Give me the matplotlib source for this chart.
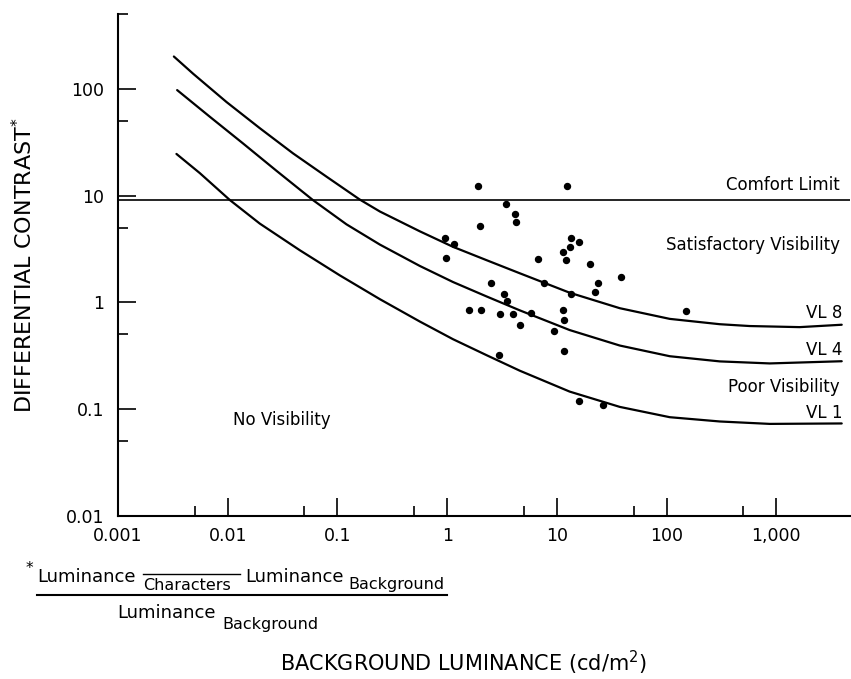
import matplotlib
matplotlib.use("Agg")
import matplotlib.pyplot as plt
from matplotlib.lines import Line2D
from matplotlib.ticker import FixedLocator, FixedFormatter, LogLocator, NullFormatter

# Pontos medidos: luminancia de fundo (cd/m2) e contraste diferencial
amostras_luminancia = [1.91, 12.3, 3.41, 4.19, 4.21, 1.99, 0.96, 1.16, 0.98, 13.6,
                       15.8, 13.2, 11.4, 12.1, 6.8, 20.2, 38.1, 2.49, 7.6, 23.9,
                       22.2, 13.6, 3.31, 3.52, 1.58, 2.02, 3.02, 3.95, 5.76, 11.4,
                       11.6, 4.6, 9.5, 11.7, 2.96, 15.8, 26.1, 150]
amostras_contraste = [12.2, 12.2, 8.4, 6.7, 5.6, 5.2, 4.0, 3.5, 2.6, 4.0,
                      3.7, 3.3, 2.96, 2.5, 2.57, 2.27, 1.74, 1.53, 1.53, 1.52,
                      1.25, 1.19, 1.19, 1.03, 0.855, 0.855, 0.784, 0.772, 0.80, 0.855,
                      0.69, 0.61, 0.54, 0.35, 0.32, 0.119, 0.11, 0.836]

# Curvas de nivel de visibilidade
vl8_x = [0.00323, 0.00484, 0.00975, 0.0196, 0.0394, 0.0796, 0.160, 0.244, 0.564, 1.13,
         2.29, 4.60, 13.1, 37.5, 107, 306, 572, 1634, 3950]
vl8_y = [200, 138, 75.0, 42.7, 24.8, 15.0, 9.16, 7.08, 4.62, 3.31,
         2.48, 1.87, 1.23, 0.881, 0.700, 0.624, 0.600, 0.586, 0.617]
vl4_x = [0.00346, 0.00687, 0.0138, 0.0279, 0.060, 0.121, 0.244, 0.564, 1.13, 2.29,
         4.60, 13.1, 37.5, 107, 306, 872, 3950]
vl4_y = [97.0, 54.6, 30.7, 17.0, 9.04, 5.37, 3.47, 2.19, 1.55, 1.135,
         0.841, 0.550, 0.394, 0.313, 0.280, 0.268, 0.281]
vl1_x = [0.00341, 0.00557, 0.0105, 0.0196, 0.0455, 0.105, 0.244, 0.564, 1.13, 2.29,
         4.60, 13.1, 37.5, 107, 306, 872, 3950]
vl1_y = [24.5, 16.2, 9.04, 5.46, 3.07, 1.79, 1.07, 0.661, 0.452, 0.320,
         0.229, 0.146, 0.105, 0.0841, 0.0767, 0.0728, 0.0735]

limite_conforto = 9.0

x_ticks = [0.001, 0.01, 0.1, 1, 10, 100, 1000]
x_tick_labels = ["0.001", "0.01", "0.1", "1", "10", "100", "1,000"]
y_ticks = [0.01, 0.1, 1, 10, 100]
y_tick_labels = ["0.01", "0.1", "1", "10", "100"]

W, H = 851, 679


def px(x, y):
    # coordenadas em pixels da imagem -> fracao da figura
    return x / W, 1 - y / H


fig = plt.figure(figsize=(W / 100, H / 100), dpi=100)
ax = fig.add_axes([118 / W, 1 - 516 / H, (850 - 118) / W, (516 - 14) / H])
ax.set_xscale("log")
ax.set_yscale("log")
ax.set_xlim(0.001, 4700)
ax.set_ylim(0.01, 500)

# Curvas e linha de conforto
for cx, cy in [(vl8_x, vl8_y), (vl4_x, vl4_y), (vl1_x, vl1_y)]:
    ax.plot(cx, cy, color="black", linewidth=1.6,
            solid_capstyle="round", solid_joinstyle="round")
ax.axhline(limite_conforto, color="black", linewidth=1.2)

ax.plot(amostras_luminancia, amostras_contraste, "o", color="black", markersize=4.3)

# Eixos
for lado in ["top", "right"]:
    ax.spines[lado].set_visible(False)
for lado in ["left", "bottom"]:
    ax.spines[lado].set_linewidth(1.5)

ax.xaxis.set_major_locator(FixedLocator(x_ticks))
ax.xaxis.set_major_formatter(FixedFormatter(x_tick_labels))
ax.yaxis.set_major_locator(FixedLocator(y_ticks))
ax.yaxis.set_major_formatter(FixedFormatter(y_tick_labels))
ax.xaxis.set_minor_locator(LogLocator(base=10, subs=(5.0,), numticks=20))
ax.yaxis.set_minor_locator(LogLocator(base=10, subs=(5.0,), numticks=20))
ax.xaxis.set_minor_formatter(NullFormatter())
ax.yaxis.set_minor_formatter(NullFormatter())
ax.tick_params(which="major", direction="in", length=13, width=1.2, labelsize=12.5)
ax.tick_params(which="minor", direction="in", length=7.5, width=1.2)
ax.tick_params(axis="x", which="major", pad=8)
ax.tick_params(axis="y", which="major", pad=10)

# Textos das regioes
rotulos = [
    ("Comfort Limit", 840, 185),
    ("Satisfactory Visibility", 840, 245),
    ("VL 8", 842, 313),
    ("VL 4", 842, 350),
    ("Poor Visibility", 840, 387),
    ("VL 1", 842, 413),
]
for texto, x, y in rotulos:
    fig.text(*px(x, y), texto, ha="right", va="center", fontsize=12)
fig.text(*px(233, 420), "No Visibility", ha="left", va="center", fontsize=12)

# Titulos dos eixos
fig.text(*px(24, 265), "DIFFERENTIAL CONTRAST$^{*}$", rotation=90,
         ha="center", va="center", fontsize=16)
fig.text(*px(463, 663), "BACKGROUND LUMINANCE (cd/m$^{2}$)",
         ha="center", va="center", fontsize=15)

# Nota de rodape com a formula do contraste
fig.text(*px(26, 568), "*", ha="left", va="center", fontsize=11)
fig.text(*px(37, 577), "Luminance", ha="left", va="center", fontsize=13)
fig.text(*px(143, 585), "Characters", ha="left", va="center", fontsize=11.5)
fig.text(*px(245, 577), "Luminance", ha="left", va="center", fontsize=13)
fig.text(*px(348, 585), "Background", ha="left", va="center", fontsize=11.5)
fig.text(*px(117, 613), "Luminance", ha="left", va="center", fontsize=13)
fig.text(*px(222, 624), "Background", ha="left", va="center", fontsize=11.5)

x0, y0 = px(143, 574)
x1, _ = px(240, 574)
fig.add_artist(Line2D([x0, x1], [y0, y0], color="black", linewidth=1.0, transform=fig.transFigure))
x0, y0 = px(37, 595)
x1, _ = px(447, 595)
fig.add_artist(Line2D([x0, x1], [y0, y0], color="black", linewidth=1.5, transform=fig.transFigure))

fig.savefig("out.png", dpi=100)
